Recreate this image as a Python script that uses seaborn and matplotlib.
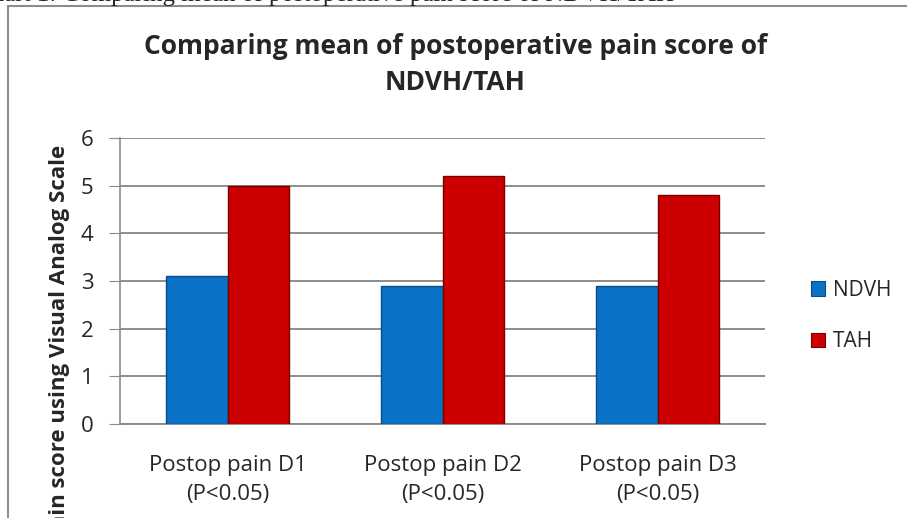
import pandas as pd
import seaborn as sns
import matplotlib.pyplot as plt
from matplotlib.patches import Patch

# Datos
categorias = ["Postop pain D1\n(P<0.05)", "Postop pain D2\n(P<0.05)", "Postop pain D3\n(P<0.05)"]
ndvh = [3.1, 2.9, 2.9]
tah = [5.0, 5.2, 4.8]
grupos = ["NDVH", "TAH"]
colores = ["#0A72C6", "#CC0000"]
bordes = ["#0A4C85", "#7A0000"]

df = pd.DataFrame({
    "Categoria": categorias * 2,
    "Score": ndvh + tah,
    "Grupo": ["NDVH"] * 3 + ["TAH"] * 3,
})

sns.set_style("white")
plt.rcParams['font.family'] = ['Open Sans', 'DejaVu Sans']

fig = plt.figure(figsize=(9.07, 5.18), dpi=100)
ax = fig.add_axes([120 / 907, 1 - 424 / 518, 645 / 907, 286 / 518])

sns.barplot(data=df, x="Categoria", y="Score", hue="Grupo", palette=colores,
            saturation=1, width=0.57, gap=0, ax=ax, legend=False, zorder=3)

# Bordes más oscuros para simular el relieve
for i, barra in enumerate(ax.patches[:6]):
    barra.set_edgecolor(bordes[i // 3])
    barra.set_linewidth(1.0)

# Cuadrícula y ejes estilo Excel
ax.set_ylim(0, 6)
ax.set_xlim(-0.5, 2.5)
ax.set_yticks(range(0, 7))
ax.yaxis.grid(True, color="#8c8c8c", linewidth=1.4, zorder=0)
ax.set_axisbelow(True)
for lado in ["top", "right"]:
    ax.spines[lado].set_visible(False)
ax.spines["left"].set_color("#8c8c8c")
ax.spines["bottom"].set_color("#8c8c8c")
ax.spines["left"].set_linewidth(1.2)
ax.spines["bottom"].set_linewidth(1.4)
ax.tick_params(axis="y", which="both", left=True, length=8, color="#8c8c8c",
               labelsize=16, pad=11)
ax.tick_params(axis="x", bottom=False, labelsize=16, pad=19)
for t in ax.get_xticklabels():
    t.set_linespacing(1.5)
ax.set_xlabel("")
ax.set_ylabel("")

# Título y etiqueta del eje Y
fig.text(0.502, 1 - 47 / 518, "Comparing mean of postoperative pain score of",
         ha="center", va="center", fontsize=19, fontweight="bold")
fig.text(0.502, 1 - 82 / 518, "NDVH/TAH",
         ha="center", va="center", fontsize=19, fontweight="bold")
fig.text(59 / 907, 1 - 343 / 518, "Pain score using Visual Analog Scale",
         rotation=90, ha="center", va="center", fontsize=16, fontweight="bold")

# Texto recortado arriba (título del documento)
fig.text(-25 / 907, 1 - 1 / 518,
         "Chart 1: Comparing mean of postoperative pain score of NDVH/TAH",
         ha="left", va="baseline", fontsize=18, family="Liberation Serif")

# Marco del gráfico
fig.add_artist(plt.Line2D([7.5 / 907, 7.5 / 907], [0, 1 - 6 / 518],
                          color="#8c8c8c", linewidth=1.5))
fig.add_artist(plt.Line2D([7.5 / 907, 1], [1 - 6 / 518, 1 - 6 / 518],
                          color="#8c8c8c", linewidth=1.5))

# Leyenda
handles = [Patch(facecolor=c, edgecolor=b, linewidth=0.8) for c, b in zip(colores, bordes)]
fig.legend(handles, grupos, loc="center left", bbox_to_anchor=(792 / 907, 1 - 316 / 518),
           frameon=False, fontsize=15, handlelength=0.7, handleheight=0.7,
           handletextpad=0.35, labelspacing=1.45)

fig.savefig("out.png", dpi=100)
